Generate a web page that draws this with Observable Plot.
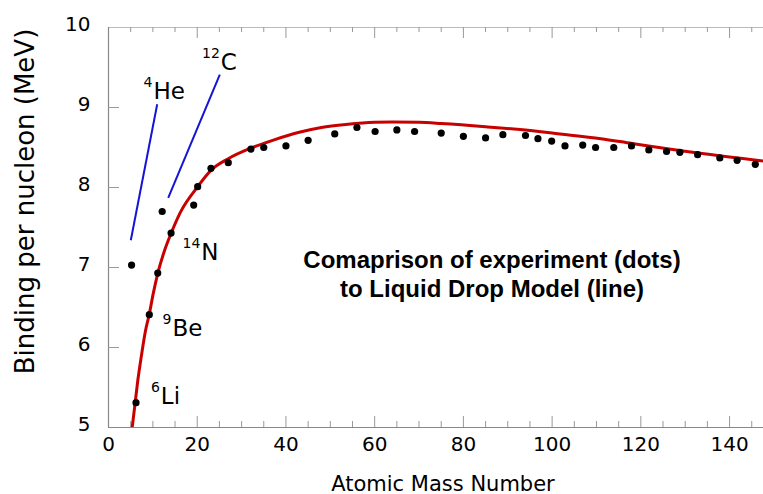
<!DOCTYPE html>
<html>
<head>
<meta charset="utf-8">
<script src="https://cdn.jsdelivr.net/npm/d3@7"></script>
<script src="https://cdn.jsdelivr.net/npm/@observablehq/plot@0.6"></script>
<style>
  html, body { margin: 0; padding: 0; background: #fff; }
  svg { display: block; }
</style>
</head>
<body>
<div id="chart"></div>
<script>
// Experimental binding energy per nucleon (dots)
const massNumber = [5.2, 6.2, 9.2, 11.1, 12.1, 14.1, 19.2, 20.1, 23.1, 27, 32.1, 35, 40, 45, 51, 56,
  60.1, 65, 69, 75, 80, 85, 88.9, 94, 96.8, 99.9, 102.9, 106.9, 109.8, 113.9, 117.9, 121.8,
  125.8, 128.8, 132.8, 137.8, 141.7, 145.8];
const bindingEnergy = [7.03, 5.31, 6.41, 6.93, 7.70, 7.43, 7.78, 8.01, 8.24, 8.31, 8.48, 8.50, 8.52, 8.59, 8.67, 8.75,
  8.70, 8.72, 8.70, 8.68, 8.64, 8.62, 8.66, 8.65, 8.61, 8.58, 8.52, 8.53, 8.50, 8.50, 8.52, 8.47,
  8.45, 8.44, 8.41, 8.37, 8.34, 8.29];

// Liquid drop model curve (line)
const modelMass = [5.34, 6.01, 6.61, 7.37, 8.34, 9.17, 10.07, 11.12, 12.62, 14.13, 16.2, 20.1, 23.2, 27,
  32, 37, 43, 48, 54, 60, 64, 70, 75, 85, 97, 100, 111, 118, 133, 147.7];
const modelBinding = [5.00, 5.31, 5.59, 5.88, 6.21, 6.41, 6.67, 6.93, 7.21, 7.43, 7.69, 8.01, 8.22, 8.36,
  8.49, 8.59, 8.69, 8.75, 8.79, 8.815, 8.82, 8.815, 8.80, 8.76, 8.70, 8.68, 8.61, 8.55, 8.43, 8.33];

// Callout lines (blue)
const calloutA1 = [5.03, 13.46];
const calloutB1 = [7.34, 7.87];
const calloutA2 = [10.98, 25.09];
const calloutB2 = [9.04, 9.41];

// Nucleus labels
const labelMass = ["4", "12", "14", "9", "6"];
const labelSymbol = ["He", "C", "N", "Be", "Li"];
const labelA = [9.92, 25.1, 20.7, 14.2, 11.57];
const labelB = [9.11, 9.47, 7.10, 6.14, 5.30];

// Note
const noteLines = ["Comaprison of experiment (dots)", "to Liquid Drop Model (line)"];
const noteA = [86.45, 86.45];
const noteB = [6.99, 6.63];

// Ticks
const xTicks = [0, 20, 40, 60, 80, 100, 120, 140];
const xMinorTicks = [5, 10, 15, 25, 30, 35, 45, 50, 55, 65, 70, 75, 85, 90, 95, 105, 110, 115, 125, 130, 135, 145];
const xMajorTicks = [20, 40, 60, 80, 100, 120, 140];
const yTicks = [5, 6, 7, 8, 9, 10];
const yInnerTicks = [6, 7, 8, 9];

const W = 763, H = 494, ML = 108, MR = 0, MT = 27, MB = 67;
const frameW = W - ML - MR, frameH = H - MT - MB;
const tickColor = "#999";

const chart = Plot.plot({
  width: W,
  height: H,
  marginLeft: ML,
  marginRight: MR,
  marginTop: MT,
  marginBottom: MB,
  style: { fontFamily: "DejaVu Sans, sans-serif", background: "#fff", color: "#000" },
  x: { domain: [0, 147.65] },
  y: { domain: [5, 10] },
  marks: [
    // frame
    Plot.ruleY([10], { stroke: "#bbb", strokeWidth: 1.2 }),
    Plot.ruleY([5], { stroke: "#888", strokeWidth: 1.2 }),
    Plot.ruleX([0], { stroke: "#888", strokeWidth: 1.2 }),
    // inward ticks
    Plot.ruleY(yInnerTicks, { stroke: tickColor, insetRight: frameW - 11 }),
    Plot.ruleX(xMinorTicks, { stroke: tickColor, insetBottom: frameH - 5 }),
    Plot.ruleX(xMajorTicks, { stroke: tickColor, insetBottom: frameH - 11 }),
    Plot.ruleX(xMinorTicks, { stroke: tickColor, insetTop: frameH - 6 }),
    Plot.ruleX(xMajorTicks, { stroke: tickColor, insetTop: frameH - 11 }),
    // axes
    Plot.axisX({ ticks: xTicks, tickSize: 0, tickPadding: 9, fontSize: 20, label: null, tickFormat: d3.format("d") }),
    Plot.axisY({ ticks: yTicks, tickSize: 0, tickPadding: 18, fontSize: 20, label: null, dy: -3, tickFormat: d3.format("d") }),
    Plot.text(["Atomic Mass Number"], {
      text: d => d, frameAnchor: "bottom", textAnchor: "middle", lineAnchor: "bottom",
      dx: 7, dy: 63, fontSize: 21
    }),
    Plot.text(["Binding per nucleon (MeV)"], {
      text: d => d, frameAnchor: "left", textAnchor: "middle", lineAnchor: "middle",
      rotate: -90, dx: -83, dy: -26, fontSize: 26
    }),
    // model curve
    Plot.line(modelMass, {
      x: modelMass, y: modelBinding, curve: "monotone-x",
      stroke: "#c80000", strokeWidth: 3, clip: true
    }),
    // experiment dots
    Plot.dot(massNumber, { x: massNumber, y: bindingEnergy, r: 3.6, fill: "#000" }),
    // callouts
    Plot.link(calloutA1, {
      x1: calloutA1, y1: calloutB1, x2: calloutA2, y2: calloutB2,
      stroke: "#1414d6", strokeWidth: 2
    }),
    // nucleus labels
    Plot.text(labelMass, {
      x: labelA, y: labelB, text: labelMass, textAnchor: "end", lineAnchor: "bottom",
      dy: -12, fontSize: 14
    }),
    Plot.text(labelSymbol, {
      x: labelA, y: labelB, text: labelSymbol, textAnchor: "start", lineAnchor: "bottom",
      dx: 1, fontSize: 23
    }),
    // note
    Plot.text(noteLines, {
      x: noteA, y: noteB, text: noteLines, textAnchor: "middle", lineAnchor: "bottom",
      fontSize: 24, fontWeight: "bold", fontFamily: "Liberation Sans, Arial, sans-serif"
    })
  ]
});

document.getElementById("chart").appendChild(chart);
</script>
</body>
</html>
